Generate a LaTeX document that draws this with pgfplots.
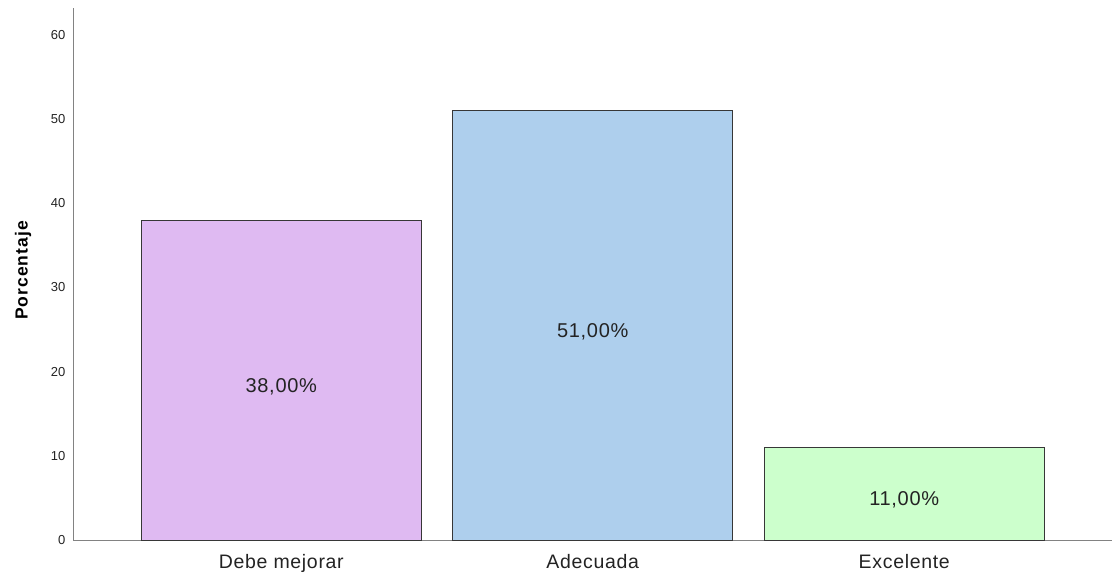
\documentclass[border=0pt]{standalone}
\usepackage{pgfplots}
\pgfplotsset{compat=1.18}
\usepackage{fontspec}
\setmainfont{Liberation Sans}
\newfontfamily\widefont[LetterSpace=3.5]{Liberation Sans}
\newfontfamily\labelfont[LetterSpace=6]{Liberation Sans}
\definecolor{barA}{RGB}{223,186,242}
\definecolor{barB}{RGB}{174,207,237}
\definecolor{barC}{RGB}{204,255,204}
\definecolor{axgray}{RGB}{130,130,130}
\definecolor{edge}{RGB}{55,55,55}
\definecolor{txt}{RGB}{35,35,35}
\begin{document}
\begin{tikzpicture}[x=1pt,y=1pt]
\path[use as bounding box] (-73.5,-38) rectangle (1039.5,540);
\begin{axis}[
  at={(0,0)}, anchor=south west,
  scale only axis, width=1038.5pt, height=532pt,
  xmin=-0.667, xmax=2.667, ymin=0, ymax=63.2,
  axis x line*=bottom, axis y line*=left,
  axis line style={axgray, line width=0.9pt},
  xtick={0,1,2}, xticklabels={Debe mejorar,Adecuada,Excelente},
  ytick={0,10,20,30,40,50,60},
  major tick length=0pt,
  tick style={draw=none},
  /pgf/number format/assume math mode=true,
  yticklabel style={font=\fontsize{13}{15}\selectfont, text=txt, anchor=east, inner sep=0pt, xshift=-8pt},
  xticklabel style={font=\widefont\fontsize{19.5}{22}\selectfont, text=txt, anchor=base, inner sep=0pt, yshift=-28pt},
  ylabel={\textbf{Porcentaje}},
  every axis y label/.style={at={(rel axis cs:0,0.5075)}, rotate=90, anchor=center, inner sep=0pt, yshift=50.5pt, font=\labelfont\fontsize{17.5}{20}\selectfont, text=black},
  ybar, bar width=0.9, bar shift=0pt,
  clip=false,
]
\addplot[fill=barA, draw=edge, line width=1pt] coordinates {(0,38)};
\addplot[fill=barB, draw=edge, line width=1pt] coordinates {(1,51)};
\addplot[fill=barC, draw=edge, line width=1pt] coordinates {(2,11)};
\node[font=\widefont\fontsize{20}{22}\selectfont, text=txt, anchor=base, inner sep=0pt, yshift=-12pt] at (axis cs:0,19) {38,00\%};
\node[font=\widefont\fontsize{20}{22}\selectfont, text=txt, anchor=base, inner sep=0pt, yshift=-12pt] at (axis cs:1,25.5) {51,00\%};
\node[font=\widefont\fontsize{20}{22}\selectfont, text=txt, anchor=base, inner sep=0pt, yshift=-12pt] at (axis cs:2,5.5) {11,00\%};
\end{axis}
\end{tikzpicture}
\end{document}
